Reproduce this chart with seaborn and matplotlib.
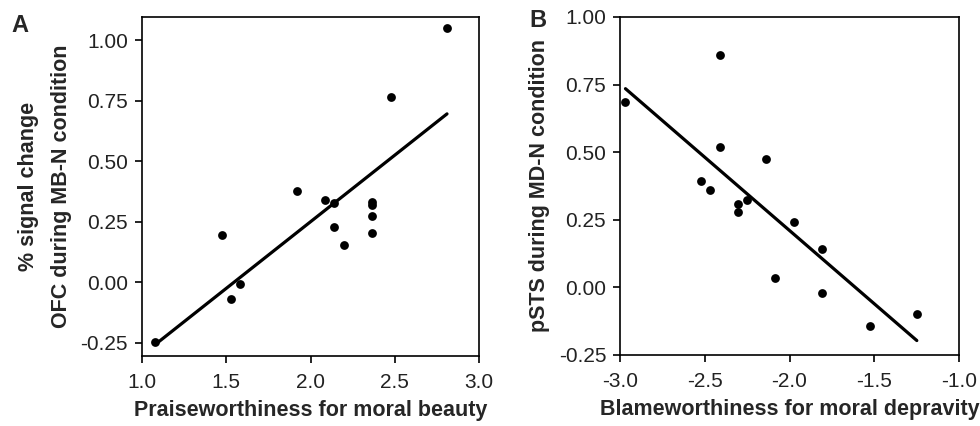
import matplotlib
matplotlib.use("Agg")
import matplotlib.pyplot as plt
import seaborn as sns
import pandas as pd

# panel A: praiseworthiness vs OFC signal change
praise = [2.81, 2.478, 1.918, 2.086, 2.141, 2.367, 2.367, 2.367, 2.367,
          2.141, 2.199, 1.473, 1.582, 1.528, 1.079]
ofc = [1.05, 0.767, 0.379, 0.341, 0.327, 0.331, 0.320, 0.276, 0.204,
       0.228, 0.155, 0.195, -0.006, -0.068, -0.249]

# panel B: blameworthiness vs pSTS signal change
blame = [-2.412, -2.968, -2.412, -2.139, -2.522, -2.467, -2.307, -2.307,
         -2.252, -1.973, -1.806, -2.084, -1.806, -1.527, -1.249]
psts = [0.858, 0.687, 0.520, 0.473, 0.393, 0.359, 0.309, 0.280,
        0.324, 0.243, 0.143, 0.033, -0.020, -0.141, -0.097]

xticks_a = [1.0, 1.5, 2.0, 2.5, 3.0]
xticks_b = [-3.0, -2.5, -2.0, -1.5, -1.0]
yticks = [-0.25, 0.00, 0.25, 0.50, 0.75, 1.00]

df_a = pd.DataFrame({"praise": praise, "ofc": ofc})
df_b = pd.DataFrame({"blame": blame, "psts": psts})

sns.set_style("ticks")
plt.rcParams['font.family'] = ['Liberation Sans', 'DejaVu Sans']
plt.rcParams['axes.linewidth'] = 1.2

fig = plt.figure(figsize=(9.8, 4.26), dpi=100)
ax1 = fig.add_axes([0.1449, 0.1643, 0.3439, 0.7958])
ax2 = fig.add_axes([0.6327, 0.1667, 0.3459, 0.7934])

sk = dict(s=40, color="black", linewidths=0, alpha=1)
lk = dict(color="black", lw=2.3)

sns.regplot(data=df_a, x="praise", y="ofc", ax=ax1, ci=None,
            scatter_kws=sk, line_kws=lk)
sns.regplot(data=df_b, x="blame", y="psts", ax=ax2, ci=None,
            scatter_kws=sk, line_kws=lk)

ax1.set_xlim(1.0, 3.0)
ax1.set_ylim(-0.305, 1.097)
ax2.set_xlim(-3.0, -1.0)
ax2.set_ylim(-0.25, 1.00)

for ax, xt in [(ax1, xticks_a), (ax2, xticks_b)]:
    ax.set_xticks(xt)
    ax.set_xticklabels([f"{v:.1f}" for v in xt])
    ax.set_yticks(yticks)
    ax.set_yticklabels([f"{v:.2f}" for v in yticks])
    ax.tick_params(direction="out", length=5, width=1.2, labelsize=15,
                   colors="black", labelcolor="#222222", pad=5)
    ax.tick_params(axis="x", pad=7)
    for sp in ax.spines.values():
        sp.set_visible(True)
        sp.set_color("black")

ax1.set_xlabel("Praiseworthiness for moral beauty", fontsize=15.5,
               fontweight="bold", labelpad=6)
ax1.set_ylabel("% signal change\nOFC during MB-N condition", fontsize=15.5,
               fontweight="bold", labelpad=6, linespacing=1.75)
ax2.set_xlabel("Blameworthiness for moral depravity", fontsize=15.5,
               fontweight="bold", labelpad=6)
ax2.set_ylabel("pSTS during MD-N condition", fontsize=15.5,
               fontweight="bold", labelpad=6)

fig.text(0.012, 0.925, "A", fontsize=17, fontweight="bold")
fig.text(0.540, 0.937, "B", fontsize=17, fontweight="bold")

fig.savefig("out.png", dpi=100)
